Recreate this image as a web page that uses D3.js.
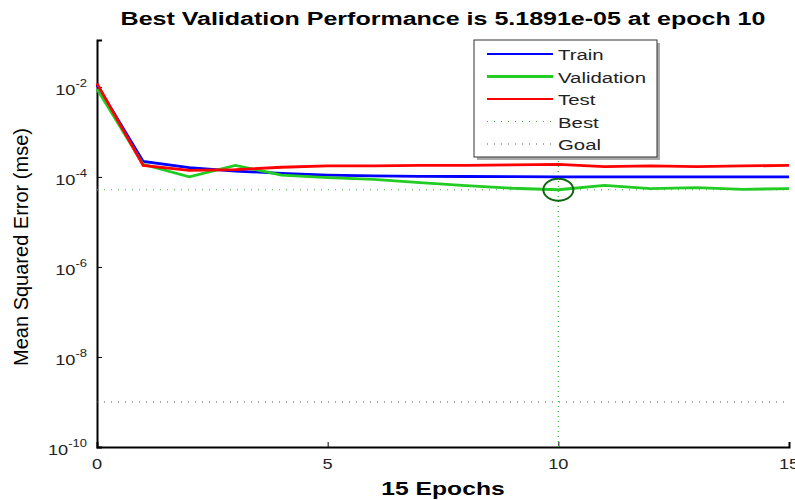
<!DOCTYPE html>
<html>
<head>
<meta charset="utf-8">
<script src="https://cdn.jsdelivr.net/npm/d3@7"></script>
<style>
  body { margin: 0; background: #fff; }
  svg { font-family: "Liberation Sans", Arial, sans-serif; }
</style>
</head>
<body>
<div id="chart"></div>
<script>
// performance per epoch
const epochs = [0, 1, 2, 3, 4, 5, 6, 7, 8, 9, 10, 11, 12, 13, 14, 15];
const train = [1.1e-2, 2.2e-4, 1.6e-4, 1.35e-4, 1.2e-4, 1.1e-4, 1.05e-4, 1.03e-4, 1.02e-4, 1.01e-4, 1.0e-4, 1.0e-4, 1.0e-4, 1.0e-4, 1.0e-4, 1.0e-4];
const validation = [9e-3, 1.9e-4, 1.0e-4, 1.8e-4, 1.1e-4, 9.6e-5, 8.8e-5, 7.5e-5, 6.4e-5, 5.6e-5, 5.1891e-5, 6.5e-5, 5.5e-5, 5.8e-5, 5.3e-5, 5.5e-5];
const test = [1.2e-2, 1.8e-4, 1.4e-4, 1.45e-4, 1.64e-4, 1.75e-4, 1.75e-4, 1.8e-4, 1.8e-4, 1.85e-4, 1.9e-4, 1.7e-4, 1.75e-4, 1.7e-4, 1.75e-4, 1.8e-4];
const bestEpoch = 10, bestValue = 5.1891e-5, goal = 1e-9;
const yTicks = [1e-10, 1e-8, 1e-6, 1e-4, 1e-2];
const xTicks = [0, 5, 10, 15];
const legendNames = ["Train", "Validation", "Test", "Best", "Goal"];

const width = 795, height = 500,
    margin = ({top: 40, right: 6, bottom: 53, left: 97});
const stretch = 1.36; // the reference text is wide, like a stretched screenshot

let svg = d3.select("#chart").append("svg")
    .attr("width", width).attr("height", height);

// put a text at (px, py) and widen it horizontally
function wideText(parent, px, py, k) {
    return parent.append("g")
        .attr("transform", `translate(${px}, ${py}) scale(${k}, 1)`)
        .append("text");
}

let x = d3.scaleLinear()
    .domain([0, 15])
    .range([margin.left, width - margin.right]);

let y = d3.scaleLog()
    .domain([1e-10, 1.1e-1])
    .range([height - margin.bottom, margin.top]);

// axes, ticks point inward like matlab
const xAxis = g => g
    .attr("transform", `translate(0, ${height - margin.bottom})`)
    .call(d3.axisBottom(x).tickValues(xTicks).tickSize(-5).tickFormat(""));
const yAxis = g => g
    .attr("transform", `translate(${margin.left}, 0)`)
    .call(d3.axisLeft(y).tickValues(yTicks).tickSize(-5).tickFormat(""));

svg.append("g").call(xAxis)
    .call(g => g.select(".domain").attr("stroke", "#000").attr("stroke-width", 2));
svg.append("g").call(yAxis)
    .call(g => g.select(".domain").attr("stroke", "#000").attr("stroke-width", 2));

// x tick labels
xTicks.forEach(t => {
    wideText(svg, x(t), height - margin.bottom + 22, 1.3)
        .attr("text-anchor", "middle").attr("font-size", 14).attr("fill", "#222")
        .text(t);
});

// y tick labels as 10 with superscript exponent
yTicks.forEach(t => {
    let tx = wideText(svg, margin.left - 10, y(t) + 8, 1.3)
        .attr("text-anchor", "end").attr("font-size", 14).attr("fill", "#222");
    tx.append("tspan").text("10");
    tx.append("tspan").attr("dy", -8).attr("font-size", 10).text(Math.round(Math.log10(t)));
});

// goal and best guides
svg.append("line")
    .attr("x1", x(0)).attr("x2", x(15))
    .attr("y1", y(goal)).attr("y2", y(goal))
    .attr("stroke", "#555").attr("stroke-width", 1.2).attr("stroke-dasharray", "1,6");
svg.append("line")
    .attr("x1", x(0)).attr("x2", x(15))
    .attr("y1", y(bestValue)).attr("y2", y(bestValue))
    .attr("stroke", "#33bb33").attr("stroke-width", 1.2).attr("stroke-dasharray", "1,6");
svg.append("line")
    .attr("x1", x(bestEpoch)).attr("x2", x(bestEpoch))
    .attr("y1", y.range()[0]).attr("y2", y.range()[1])
    .attr("stroke", "#33bb33").attr("stroke-width", 1.2).attr("stroke-dasharray", "1,4");

// the three curves
const series = [
    {name: "Train", values: train, color: "#0000ff"},
    {name: "Validation", values: validation, color: "#22cc22"},
    {name: "Test", values: test, color: "#ff0000"}
];
let line = d3.line()
    .x((d, i) => x(epochs[i]))
    .y(d => y(d));
svg.append("g").selectAll("path")
    .data(series)
    .join("path")
    .attr("fill", "none")
    .attr("stroke", d => d.color)
    .attr("stroke-width", 2.8)
    .attr("d", d => line(d.values));

// circle on the best point
svg.append("ellipse")
    .attr("cx", x(bestEpoch)).attr("cy", y(bestValue))
    .attr("rx", 15).attr("ry", 11)
    .attr("fill", "none").attr("stroke", "#116611").attr("stroke-width", 2);

// legend box
const lg = svg.append("g").attr("transform", "translate(474, 40)");
lg.append("rect").attr("x", 3).attr("y", 3).attr("width", 183).attr("height", 117).attr("fill", "#aaa");
lg.append("rect").attr("width", 183).attr("height", 117)
    .attr("fill", "#fff").attr("stroke", "#333").attr("stroke-width", 1);
const lstyle = [
    {color: "#0000ff", w: 2, dash: null},
    {color: "#22cc22", w: 3, dash: null},
    {color: "#ff0000", w: 2, dash: null},
    {color: "#33bb33", w: 1.2, dash: "1,6"},
    {color: "#555", w: 1.2, dash: "1,6"}
];
legendNames.forEach((name, i) => {
    const ry = 14 + i * 22.5;
    lg.append("line")
        .attr("x1", 13).attr("x2", 79).attr("y1", ry).attr("y2", ry)
        .attr("stroke", lstyle[i].color)
        .attr("stroke-width", lstyle[i].w)
        .attr("stroke-dasharray", lstyle[i].dash);
    wideText(lg, 84, ry + 6, stretch)
        .attr("font-size", 15).attr("fill", "#222")
        .text(name);
});

// titles
const cx = (margin.left + width - margin.right) / 2;
wideText(svg, cx, 25, 1.39)
    .attr("text-anchor", "middle").attr("font-size", 18).attr("font-weight", "bold")
    .text(`Best Validation Performance is ${bestValue.toExponential(4).replace("e-", "e-0")} at epoch ${bestEpoch}`);
wideText(svg, cx, 495, 1.37)
    .attr("text-anchor", "middle").attr("font-size", 18).attr("font-weight", "bold")
    .text("15 Epochs");
svg.append("text")
    .attr("transform", "translate(28, 247) rotate(-90)")
    .attr("text-anchor", "middle").attr("font-size", 20)
    .text("Mean Squared Error  (mse)");
</script>
</body>
</html>
